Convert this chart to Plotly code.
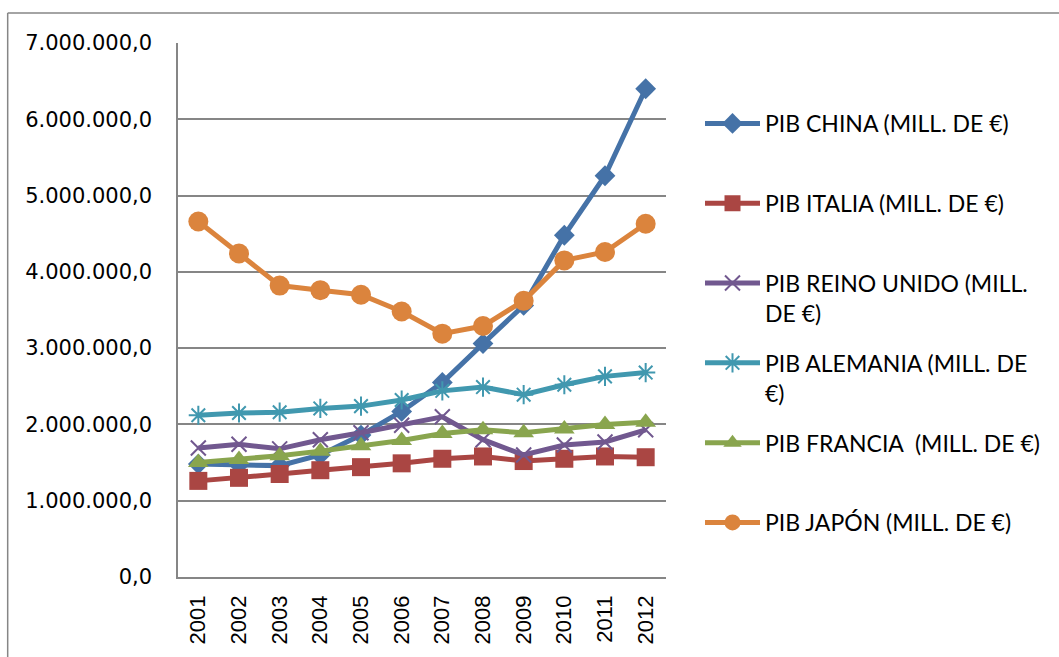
import plotly.graph_objects as go

# Years on the category axis
years = ["2001", "2002", "2003", "2004", "2005", "2006",
         "2007", "2008", "2009", "2010", "2011", "2012"]

# GDP by country, millions of euros
pib_china = [1480000, 1470000, 1460000, 1600000, 1860000, 2170000,
             2550000, 3060000, 3560000, 4480000, 5260000, 6400000]
pib_italia = [1260000, 1300000, 1350000, 1400000, 1440000, 1490000,
              1550000, 1580000, 1520000, 1550000, 1580000, 1570000]
pib_reino_unido = [1690000, 1740000, 1680000, 1800000, 1890000, 1990000,
                   2100000, 1800000, 1600000, 1730000, 1770000, 1930000]
pib_alemania = [2120000, 2150000, 2160000, 2210000, 2240000, 2320000,
                2440000, 2490000, 2390000, 2520000, 2630000, 2680000]
pib_francia = [1500000, 1540000, 1590000, 1650000, 1720000, 1790000,
               1880000, 1930000, 1890000, 1940000, 2000000, 2030000]
pib_japon = [4660000, 4240000, 3820000, 3760000, 3700000, 3480000,
             3190000, 3290000, 3620000, 4150000, 4260000, 4630000]

series = [
    ("PIB CHINA (MILL. DE €)<br> ", pib_china, "#4572A7", "diamond", 16, None),
    ("PIB ITALIA (MILL. DE €)<br> ", pib_italia, "#AA4643", "square", 18, None),
    ("PIB REINO UNIDO (MILL.<br>DE €)", pib_reino_unido, "#71588F", "x-thin-open", 15, 2),
    ("PIB ALEMANIA (MILL. DE<br>€)", pib_alemania, "#4198AF", "asterisk-open", 16, 2),
    ("PIB FRANCIA  (MILL. DE €)<br> ", pib_francia, "#89A54E", "triangle-up", 18, None),
    ("PIB JAPÓN (MILL. DE €)<br> ", pib_japon, "#DB843D", "circle", 20, None),
]

fig = go.Figure()
for i, (name, vals, color, symbol, size, mlw) in enumerate(series):
    marker = dict(symbol=symbol, size=size, color=color)
    if mlw:
        marker["line"] = dict(color=color, width=mlw)
    else:
        marker["line"] = dict(width=0)
    fig.add_trace(go.Scatter(
        x=years, y=vals, name=name, mode="lines+markers",
        line=dict(color=color, width=5),
        marker=marker, legendgroup=f"g{i}",
    ))

# Outer chart frame (top and left edges visible)
fig.add_shape(type="line", xref="paper", yref="paper",
              x0=-0.349, x1=1.9, y0=1.0562, y1=1.0562,
              line=dict(color="#868686", width=1.5))
fig.add_shape(type="line", xref="paper", yref="paper",
              x0=-0.349, x1=-0.349, y0=1.0562, y1=-0.3,
              line=dict(color="#868686", width=1.5))

fig.update_layout(
    width=1059, height=657,
    margin=dict(l=178, r=393, t=43, b=80),
    paper_bgcolor="white", plot_bgcolor="white",
    separators=",.",
    showlegend=True,
    legend=dict(
        x=(700 - 178) / 488, xanchor="left",
        y=(577 - 102) / 534, yanchor="top",
        font=dict(family="Lato", size=23, color="#000000"),
        tracegroupgap=17, valign="top", itemwidth=55,
        bgcolor="rgba(0,0,0,0)",
    ),
    xaxis=dict(
        type="category", range=[-0.5, 11.5],
        showgrid=False, showline=True, linecolor="#868686", linewidth=1.5,
        tickangle=-90, ticks="",
        tickfont=dict(family="Liberation Sans", size=22, color="#000000"),
        ticklabelstandoff=8,
    ),
    yaxis=dict(
        range=[0, 7000000], dtick=1000000, tick0=0,
        tickformat=",.1f",
        showgrid=True, gridcolor="#868686", gridwidth=1.5,
        showline=True, linecolor="#868686", linewidth=1.5,
        zeroline=False, ticks="",
        tickfont=dict(family="DejaVu Sans", size=21, color="#000000"),
        ticklabelstandoff=20,
    ),
)

fig.write_html("out.html")
